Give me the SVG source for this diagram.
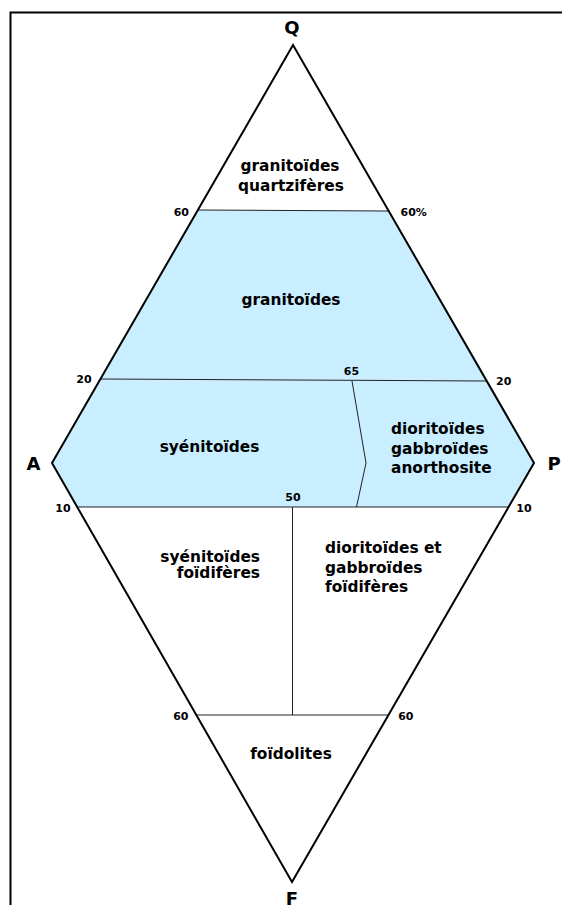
<svg xmlns="http://www.w3.org/2000/svg" width="562" height="905" viewBox="0 0 562 905">
<style>
.t{font-family:"DejaVu Sans","Liberation Sans",sans-serif;font-weight:bold;fill:#000}
.f{font-size:15.4px}
.s{font-size:11px;text-anchor:middle}
.v{font-size:18px;text-anchor:middle}
.m{text-anchor:middle}
.e{text-anchor:end}
.edge{fill:none;stroke:#000;stroke-width:2;stroke-linejoin:miter}
.in{fill:none;stroke:#222;stroke-width:1}
</style>
<rect width="562" height="905" fill="#fff"/>
<g id="frame"><path d="M10.5,905 V12.5 H562" fill="none" stroke="#000" stroke-width="2"/></g>
<g id="zone-blue"><polygon points="197.9,210 388.7,211 534,463 508.6,507 77.2,507 52,463" fill="#c8eeff"/></g>
<g id="connectors">
<line class="in" x1="197.9" y1="210" x2="388.7" y2="211"/>
<line class="in" x1="100.4" y1="379" x2="486.7" y2="381"/>
<line class="in" x1="77.2" y1="507" x2="508.6" y2="507"/>
<line class="in" x1="196.4" y1="715" x2="388.4" y2="715"/>
<line class="in" x1="292.5" y1="507" x2="292.5" y2="715"/>
<polyline class="in" points="352,381 366,463 356.5,507"/>
<polygon class="edge" points="293,45 534,463 292,882 52,463"/>
</g>
<g id="vertex-Q"><text class="t v" x="292" y="34">Q</text></g>
<g id="vertex-A"><text class="t v" x="33.5" y="469.5">A</text></g>
<g id="vertex-P"><text class="t v" x="554" y="470">P</text></g>
<g id="vertex-F"><text class="t v" x="292" y="905">F</text></g>
<g id="ticks">
<text class="t s" x="181.3" y="215.5">60</text>
<text class="t s" x="413.7" y="216">60%</text>
<text class="t s" x="84" y="383">20</text>
<text class="t s" x="503.7" y="385">20</text>
<text class="t s" x="351.5" y="375">65</text>
<text class="t s" x="63" y="511.5">10</text>
<text class="t s" x="524" y="511.5">10</text>
<text class="t s" x="293" y="501">50</text>
<text class="t s" x="180.8" y="719.5">60</text>
<text class="t s" x="405.8" y="719.5">60</text>
</g>
<g id="granitoides-quartziferes"><text class="t f m" x="290" y="170.5">granitoïdes</text><text class="t f m" x="291" y="190.5">quartzifères</text></g>
<g id="granitoides"><text class="t f m" x="291" y="305">granitoïdes</text></g>
<g id="syenitoides"><text class="t f m" x="209.5" y="452">syénitoïdes</text></g>
<g id="dioritoides"><text class="t f" x="391" y="434">dioritoïdes</text><text class="t f" x="391" y="453.5">gabbroïdes</text><text class="t f" x="391" y="473">anorthosite</text></g>
<g id="syenitoides-foidiferes"><text class="t f e" x="260" y="562">syénitoïdes</text><text class="t f e" x="260" y="578">foïdifères</text></g>
<g id="dioritoides-foidiferes"><text class="t f" x="325" y="553">dioritoïdes et</text><text class="t f" x="325" y="572.5">gabbroïdes</text><text class="t f" x="325" y="592">foïdifères</text></g>
<g id="foidolites"><text class="t f m" x="291" y="759">foïdolites</text></g>
</svg>
